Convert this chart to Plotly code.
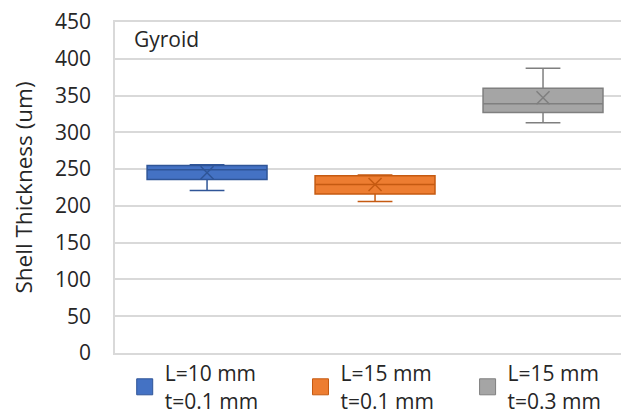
import plotly.graph_objects as go

# Data (um)
groups = ["L=10 mm<br>t=0.1 mm", "L=15 mm<br>t=0.1 mm", "L=15 mm<br>t=0.3 mm"]
lower_whisker = [221, 206, 313]
q1 = [236, 216, 327]
median = [249, 229, 339]
q3 = [255, 241, 360]
upper_whisker = [256, 242, 387]
mean = [245, 229, 347]

fills = ["#4472C4", "#ED7D31", "#A5A5A5"]
edges = ["#2F5597", "#C55A11", "#7F7F7F"]

FONT = "Open Sans"
TXT = "#262626"
fig = go.Figure()

for i, g in enumerate(groups):
    fig.add_trace(go.Box(
        x=[g], q1=[q1[i]], median=[median[i]], q3=[q3[i]],
        lowerfence=[lower_whisker[i]], upperfence=[upper_whisker[i]],
        fillcolor=fills[i], line=dict(color=edges[i], width=1.5),
        whiskerwidth=0.29, showlegend=False, name=g,
    ))
    fig.add_trace(go.Scatter(
        x=[g], y=[mean[i]], mode="markers", showlegend=False,
        marker=dict(symbol="x-thin", size=13, line=dict(color=edges[i], width=1.5)),
    ))

legend_ids = ["legend", "legend2", "legend3"]
legend_x = [0.019, 0.363, 0.690]
for i, g in enumerate(groups):
    fig.add_trace(go.Scatter(
        x=[None], y=[None], mode="markers", name=g, showlegend=True, legend=legend_ids[i],
        marker=dict(symbol="square", size=20, color=fills[i], line=dict(color=edges[i], width=1)),
    ))

leg_common = dict(orientation="h", xanchor="left", y=0.0, yanchor="top",
                  font=dict(family=FONT, size=21, color=TXT),
                  itemsizing="trace", bgcolor="rgba(0,0,0,0)")

# page body adds an 8px offset; margins compensate for it
fig.update_layout(
    width=629, height=425,
    margin=dict(l=107, r=11, t=14, b=80),
    paper_bgcolor="white", plot_bgcolor="white",
    font=dict(family=FONT, size=21, color=TXT),
    boxmode="overlay", boxgap=0.286, boxgroupgap=0,
    showlegend=True,
    legend=dict(x=legend_x[0], **leg_common),
    legend2=dict(x=legend_x[1], **leg_common),
    legend3=dict(x=legend_x[2], **leg_common),
    annotations=[dict(text="Gyroid", xref="paper", yref="paper", x=0.034, y=0.998,
                      xanchor="left", yanchor="top", showarrow=False,
                      font=dict(family=FONT, size=21, color=TXT))],
)

fig.update_xaxes(type="category", categoryorder="array", categoryarray=groups,
                 range=[-0.548, 2.494], showticklabels=False, showgrid=False, automargin=False,
                 showline=True, linecolor="#D9D9D9", linewidth=1.5, mirror=True, zeroline=False)
fig.update_yaxes(range=[0, 450], dtick=50, showgrid=True, gridcolor="#D9D9D9", gridwidth=1.5,
                 showline=True, linecolor="#D9D9D9", linewidth=1.5, mirror=True, zeroline=False,
                 automargin=False, ticklabelstandoff=18, ticklabeloverflow="allow",
                 tickfont=dict(family=FONT, size=21, color=TXT),
                 title=dict(text="Shell Thickness (um)", standoff=20,
                            font=dict(family=FONT, size=22.5, color=TXT)))

fig.write_html("out.html")
